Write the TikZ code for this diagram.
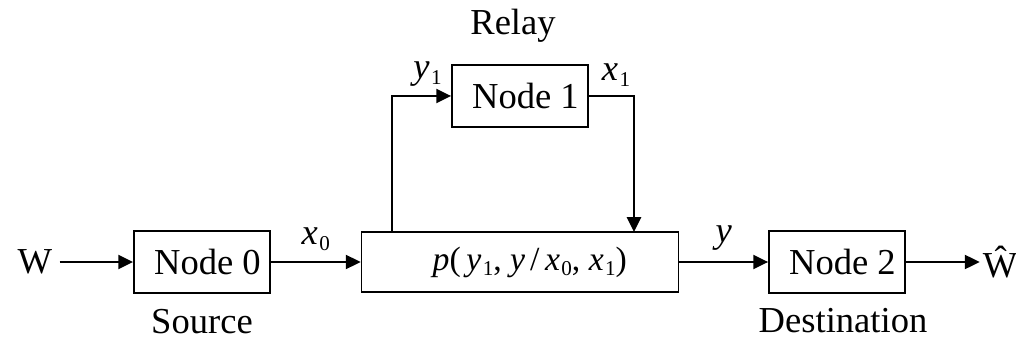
\documentclass[tikz,border=0pt]{standalone}
\usepackage{fontspec}
\setmainfont{Liberation Serif}
\usetikzlibrary{arrows.meta}

% italic symbol with a small upright index
\newcommand{\varsub}[2]{\textit{#1}\kern0.04em\raisebox{-0.35ex}{\fontsize{15}{15}\selectfont #2}}

\begin{document}
\begin{tikzpicture}[
    x=0.025cm, y=-0.025cm,
    font=\fontsize{26}{30}\selectfont,
    % Define styles
    block/.style = {rectangle, draw, line width=1.3pt, minimum width=3.4cm, minimum height=1.53cm, inner sep=0pt},
    channel/.style = {block, minimum width=7.92cm, minimum height=1.5cm},
    arrow/.style = {line width=1.3pt, -{Triangle[length=10.5pt, width=10pt]}},
    sig/.style = {inner sep=2pt},
    caption/.style = {inner sep=0pt, text depth=0pt, anchor=base}
]
\useasboundingbox (0,0) rectangle (1016,340);

% Nodes
\node [sig, inner xsep=5pt] (msg) at (35,262) {W};
\node [block] (n0) at (202,262) {\hspace{0.3em}Node 0};
\node [channel] (ch) at (520,262) {\hspace{14pt}\fontsize{24}{28}\selectfont\textit{p}(\,\varsub{y}{1}, \varsub{y}\,/\,\varsub{x}{0}, \varsub{x}{1})};
\node [block] (n1) at (520,96) {\hspace{0.3em}Node 1};
\node [block] (n2) at (837,262) {\hspace{0.3em}Node 2};
\node [sig] (est) at (1000,262) {\^W};

\coordinate (split) at (392,232);
\coordinate (merge) at (634,232);

% Captions
\node [caption] at (513,35) {Relay};
\node [caption] at (202,333) {Source};
\node [caption] at (843,332) {Destination};

% Arrows
\draw [arrow] (msg) -- (n0);
\draw [arrow] (n0) -- (ch) node[midway, above=4pt] {\varsub{x}{0}};
\draw [arrow] (ch) -- (n2) node[midway, above=4pt] {\textit{y}};
\draw [arrow] (n2) -- (est);

% Relay branch
\draw [arrow] (split) |- (n1) node[pos=0.8, above=3pt] {\varsub{y}{1}};
\draw [arrow] (n1) -| (merge) node[pos=0.3, above=3pt] {\varsub{x}{1}};

\end{tikzpicture}
\end{document}
